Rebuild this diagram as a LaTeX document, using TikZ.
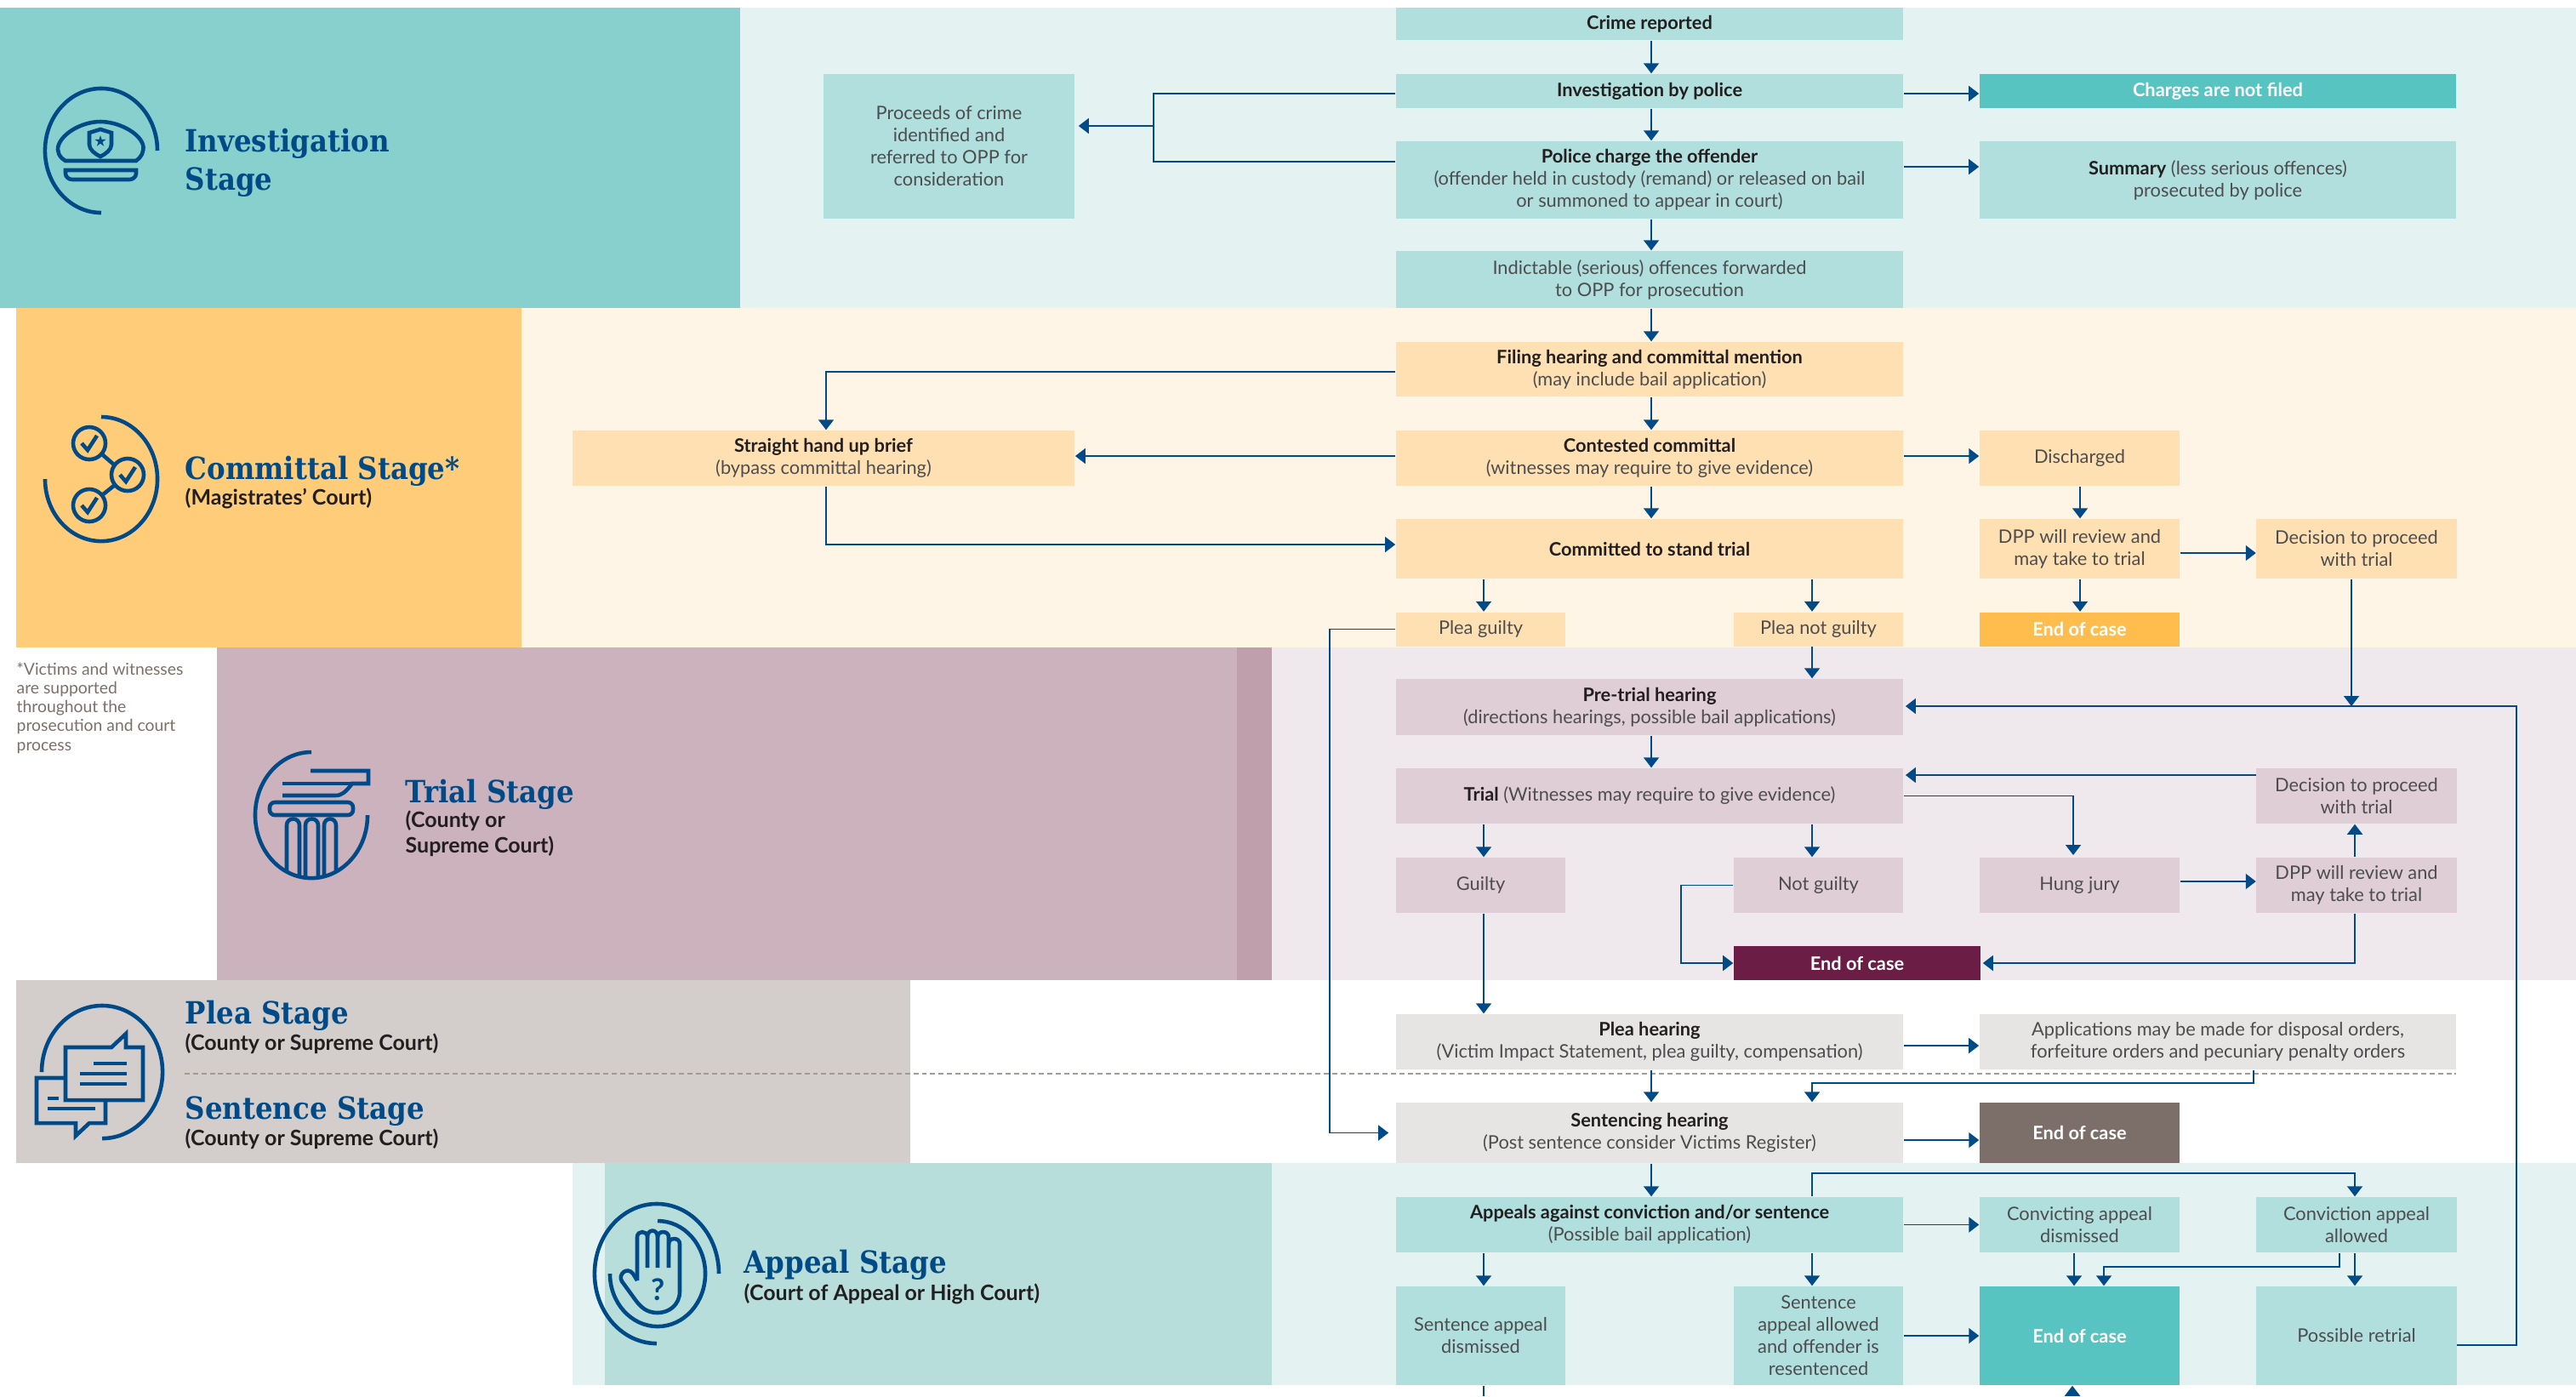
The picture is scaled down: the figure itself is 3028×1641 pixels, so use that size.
\documentclass[tikz,border=0pt]{standalone}
\usepackage{fontspec}
\setmainfont{Lato}
\newfontfamily\headfont{DejaVu Serif Condensed}
\usetikzlibrary{arrows.meta}

\definecolor{linenavy}{HTML}{004B87}
\definecolor{tealpanel}{HTML}{88D0CE}
\definecolor{tealfill}{HTML}{B0DFDD}
\definecolor{tealback}{HTML}{E4F2F1}
\definecolor{tealend}{HTML}{58C4C2}
\definecolor{orangepanel}{HTML}{FFCC7A}
\definecolor{orangefill}{HTML}{FFE0B2}
\definecolor{orangeback}{HTML}{FFF5E6}
\definecolor{orangeend}{HTML}{FFBD4D}
\definecolor{plumpanel}{HTML}{CBB2BC}
\definecolor{plumstrip}{HTML}{BF9FAC}
\definecolor{plumfill}{HTML}{DFCED5}
\definecolor{plumback}{HTML}{EFE8EC}
\definecolor{plumend}{HTML}{6B1D45}
\definecolor{greypanel}{HTML}{D3CDCB}
\definecolor{greyfill}{HTML}{E7E5E4}
\definecolor{greyend}{HTML}{7C6F69}
\definecolor{appealpanel}{HTML}{B8DEDC}
\definecolor{bodygrey}{HTML}{4D4D4F}
\definecolor{darktext}{HTML}{231F20}

\tikzset{
    box/.style={rectangle, inner sep=0pt, align=center, text=bodygrey,
        font=\fontsize{6.2}{7.4}\selectfont},
    wmain/.style={minimum width=5.96cm},
    wnarrow/.style={minimum width=1.99cm},
    wmid/.style={minimum width=2.35cm},
    wwide/.style={minimum width=5.60cm},
    tealbox/.style={box, fill=tealfill},
    orangebox/.style={box, fill=orangefill},
    plumbox/.style={box, fill=plumfill},
    greybox/.style={box, fill=greyfill},
    endbox/.style={box, text=white, font=\fontsize{6.2}{7.4}\selectfont\bfseries},
    arr/.style={draw=linenavy, line width=0.5pt, -{Triangle[length=1.2mm,width=1.8mm]}},
    seg/.style={draw=linenavy, line width=0.5pt},
    icon/.style={draw=linenavy, line width=1.3pt},
    stagename/.style={anchor=base west, inner sep=0pt, text=linenavy,
        font=\headfont\bfseries\fontsize{10.25}{12.8}\selectfont, align=left},
    court/.style={anchor=base west, inner sep=0pt, text=darktext,
        font=\fontsize{7.1}{8.4}\selectfont\bfseries, align=left}
}
\newcommand{\hd}[1]{\textbf{\textcolor{darktext}{#1}}}

\begin{document}
\begin{tikzpicture}[x=0.01cm, y=-0.01cm]
    \useasboundingbox (0, 0) rectangle (3028, 1641);

    % bands
    \fill[tealback] (870, 9) rectangle (3028, 362);
    \fill[tealpanel] (0, 9) rectangle (870, 362);
    \fill[orangeback] (613, 362) rectangle (3028, 761);
    \fill[orangepanel] (19, 362) rectangle (613, 761);
    \fill[plumback] (1495, 761) rectangle (3028, 1152);
    \fill[plumpanel] (255, 761) rectangle (1454, 1152);
    \fill[plumstrip] (1454, 761) rectangle (1495, 1152);
    \fill[greypanel] (19, 1152) rectangle (1070, 1367);
    \fill[tealback] (1495, 1367) rectangle (3028, 1628);
    \fill[tealback] (673, 1367) rectangle (711, 1628);
    \fill[appealpanel] (711, 1367) rectangle (1495, 1628);

    % investigation
    \node[tealbox, wmain, minimum height=0.38cm] (crime) at (1939, 28) {\hd{Crime reported}};
    \node[tealbox, wmain, minimum height=0.40cm] (police) at (1939, 107) {\hd{Investigation by police}};
    \node[tealbox, wmain, minimum height=0.91cm] (charge) at (1939, 211.5) {\hd{Police charge the offender}\\(offender held in custody (remand) or released on bail\\or summoned to appear in court)};
    \node[tealbox, wmain, minimum height=0.67cm] (indictable) at (1939, 328.5) {Indictable (serious) offences forwarded\\to OPP for prosecution};
    \node[tealbox, minimum width=2.95cm, minimum height=1.70cm] (proceeds) at (1115.5, 172) {Proceeds of crime\\identified and\\referred to OPP for\\consideration};
    \node[endbox, fill=tealend, wwide, minimum height=0.40cm] (notfiled) at (2607, 107) {Charges are not filed};
    \node[tealbox, wwide, minimum height=0.91cm] (summary) at (2607, 211.5) {\hd{Summary} (less serious offences)\\prosecuted by police};

    % committal
    \node[orangebox, wmain, minimum height=0.64cm] (filing) at (1939, 434) {\hd{Filing hearing and committal mention}\\(may include bail application)};
    \node[orangebox, minimum width=5.90cm, minimum height=0.65cm] (handup) at (968, 538.5) {\hd{Straight hand up brief}\\(bypass committal hearing)};
    \node[orangebox, wmain, minimum height=0.65cm] (contested) at (1939, 538.5) {\hd{Contested committal}\\(witnesses may require to give evidence)};
    \node[orangebox, wmain, minimum height=0.70cm] (committed) at (1939, 645) {\hd{Committed to stand trial}};
    \node[orangebox, wmid, minimum height=0.65cm] (discharged) at (2444.5, 538.5) {Discharged};
    \node[orangebox, wmid, minimum height=0.70cm] (dppone) at (2444.5, 645) {DPP will review and\\may take to trial};
    \node[orangebox, wmid, minimum height=0.70cm] (decisionone) at (2770, 645) {Decision to proceed\\with trial};
    \node[orangebox, wnarrow, minimum height=0.40cm] (pleaguilty) at (1740.5, 739.5) {Plea guilty};
    \node[orangebox, wnarrow, minimum height=0.40cm] (pleanot) at (2137.5, 739.5) {Plea not guilty};
    \node[endbox, fill=orangeend, wmid, minimum height=0.40cm] (endorange) at (2444.5, 739.5) {End of case};

    % trial
    \node[plumbox, wmain, minimum height=0.66cm] (pretrial) at (1939, 831) {\hd{Pre-trial hearing}\\(directions hearings, possible bail applications)};
    \node[plumbox, wmain, minimum height=0.65cm] (trial) at (1939, 935.5) {\hd{Trial} (Witnesses may require to give evidence)};
    \node[plumbox, wmid, minimum height=0.65cm] (decisiontwo) at (2770, 935.5) {Decision to proceed\\with trial};
    \node[plumbox, wnarrow, minimum height=0.65cm] (guilty) at (1740.5, 1040.5) {Guilty};
    \node[plumbox, wnarrow, minimum height=0.65cm] (notguilty) at (2137.5, 1040.5) {Not guilty};
    \node[plumbox, wmid, minimum height=0.65cm] (hung) at (2444.5, 1040.5) {Hung jury};
    \node[plumbox, wmid, minimum height=0.65cm] (dpptwo) at (2770, 1040.5) {DPP will review and\\may take to trial};
    \node[endbox, fill=plumend, minimum width=2.90cm, minimum height=0.40cm] (endplum) at (2183, 1132) {End of case};

    % plea and sentence
    \node[greybox, wmain, minimum height=0.65cm] (pleahearing) at (1939, 1224.5) {\hd{Plea hearing}\\(Victim Impact Statement, plea guilty, compensation)};
    \node[greybox, wwide, minimum height=0.65cm] (applications) at (2607, 1224.5) {Applications may be made for disposal orders,\\forfeiture orders and pecuniary penalty orders};
    \node[greybox, wmain, minimum height=0.71cm] (sentencing) at (1939, 1331.5) {\hd{Sentencing hearing}\\(Post sentence consider Victims Register)};
    \node[endbox, fill=greyend, wmid, minimum height=0.71cm] (endgrey) at (2444.5, 1331.5) {End of case};
    \draw[greyend!70, line width=0.4pt, dash pattern=on 1.7pt off 1.1pt] (217, 1262) -- (2887, 1262);

    % appeal
    \node[tealbox, wmain, minimum height=0.65cm] (appeals) at (1939, 1439.5) {\hd{Appeals against conviction and/or sentence}\\(Possible bail application)};
    \node[tealbox, wmid, minimum height=0.65cm] (convicting) at (2444.5, 1439.5) {Convicting appeal\\dismissed};
    \node[tealbox, wmid, minimum height=0.65cm] (allowed) at (2770, 1439.5) {Conviction appeal\\allowed};
    \node[tealbox, wnarrow, minimum height=1.16cm] (sdismissed) at (1740.5, 1570) {Sentence appeal\\dismissed};
    \node[tealbox, wnarrow, minimum height=1.16cm] (sallowed) at (2137.5, 1570) {Sentence\\appeal allowed\\and offender is\\resentenced};
    \node[endbox, fill=tealend, wmid, minimum height=1.16cm] (endteal) at (2444.5, 1570) {End of case};
    \node[tealbox, wmid, minimum height=1.16cm] (retrial) at (2770, 1570) {Possible retrial};

    % stage titles
    \node[stagename] (tinvest) at (217, 223) {Investigation\\Stage};
    \node[stagename] (tcommit) at (217, 563) {Committal Stage*};
    \node[court] (ccommit) at (217, 593) {(Magistrates’ Court)};
    \node[stagename] (ttrial) at (476, 943) {Trial Stage};
    \node[court] (ctrial) at (476, 1002) {(County or\\Supreme Court)};
    \node[stagename] (tplea) at (217, 1203) {Plea Stage};
    \node[court] (cplea) at (217, 1234) {(County or Supreme Court)};
    \node[stagename] (tsentence) at (217, 1315) {Sentence Stage};
    \node[court] (csentence) at (217, 1346) {(County or Supreme Court)};
    \node[stagename] (tappeal) at (874, 1496) {Appeal Stage};
    \node[court] (cappeal) at (874, 1528) {(Court of Appeal or High Court)};
    \node[anchor=base west, inner sep=0pt, align=left, text=greyend, font=\fontsize{5.5}{6.3}\selectfont] (victims) at (19, 882) {*Victims and witnesses\\are supported\\throughout the\\prosecution and court\\process};

    % columns and rows for the connectors
    \coordinate (colmain) at (1941, 0);
    \coordinate (colguilty) at (1744, 0);
    \coordinate (colnot) at (2130, 0);
    \coordinate (colmid) at (2445, 0);
    \coordinate (colright) at (2768, 0);
    \coordinate (colretrial) at (2958, 0);
    \coordinate (colplea) at (1563, 0);
    \coordinate (colhand) at (971, 0);
    \coordinate (colsplit) at (1356, 148);
    \coordinate (rowpolice) at (0, 110);
    \coordinate (rowcharge) at (0, 190);
    \coordinate (rowsummary) at (0, 196);
    \coordinate (rowfiling) at (0, 437);
    \coordinate (rowcontest) at (0, 536);
    \coordinate (rowstand) at (0, 640);
    \coordinate (rowdpp) at (0, 650);
    \coordinate (rowpre) at (0, 830);
    \coordinate (rowhung) at (0, 1036);
    \coordinate (rowapply) at (0, 1229);
    \coordinate (cutleft) at (1744, 1641);
    \coordinate (cutend) at (2436, 1641);

    \draw[arr] (crime.south -| colmain) -- (police.north -| colmain);
    \draw[arr] (police.south -| colmain) -- (charge.north -| colmain);
    \draw[arr] (charge.south -| colmain) -- (indictable.north -| colmain);
    \draw[arr] (indictable.south -| colmain) -- (filing.north -| colmain);
    \draw[arr] (filing.south -| colmain) -- (contested.north -| colmain);
    \draw[arr] (contested.south -| colmain) -- (committed.north -| colmain);
    \draw[seg] (police.west |- rowpolice) -| (colsplit) |- (charge.west |- rowcharge);
    \draw[arr] (colsplit) -- ([xshift=0.04cm]proceeds.east |- colsplit);
    \draw[arr] (police.east |- rowpolice) -- (notfiled.west |- rowpolice);
    \draw[arr] (charge.east |- rowsummary) -- (summary.west |- rowsummary);
    \draw[arr] (filing.west |- rowfiling) -| (handup.north -| colhand);
    \draw[arr] (contested.west |- rowcontest) -- (handup.east |- rowcontest);
    \draw[arr] (handup.south -| colhand) |- (committed.west |- rowstand);
    \draw[arr] (contested.east |- rowcontest) -- (discharged.west |- rowcontest);
    \draw[arr] (discharged.south -| colmid) -- (dppone.north -| colmid);
    \draw[arr] (dppone.south -| colmid) -- (endorange.north -| colmid);
    \draw[arr] (dppone.east |- rowdpp) -- (decisionone.west |- rowdpp);
    \draw[arr] (decisionone.south -| 2764, 0) -- (2764, 830);
    \draw[arr] (committed.south -| colguilty) -- (pleaguilty.north -| colguilty);
    \draw[arr] (committed.south -| colnot) -- (pleanot.north -| colnot);
    \draw[arr] (pleaguilty.west) -| (colplea |- sentencing.west) -- ([xshift=-0.08cm]sentencing.west);
    \draw[arr] (pleanot.south -| colnot) -- (pretrial.north -| colnot);
    \draw[arr] (pretrial.south -| colmain) -- (trial.north -| colmain);
    \draw[arr] (trial.south -| colguilty) -- (guilty.north -| colguilty);
    \draw[arr] (trial.south -| colnot) -- (notguilty.north -| colnot);
    \draw[arr] (trial.east) -| (2437, 1005);
    \draw[arr] (decisiontwo.west |- 0, 911) -- ([xshift=0.02cm]trial.east |- 0, 911);
    \draw[arr] (hung.east |- rowhung) -- (dpptwo.west |- rowhung);
    \draw[arr] (dpptwo.north -| colright) -- (decisiontwo.south -| colright);
    \draw[arr] (dpptwo.south -| colright) |- ([xshift=0.02cm]endplum.east);
    \draw[arr] (notguilty.west) -| (1976, 1132) -- (endplum.west);
    \draw[arr] (guilty.south -| colguilty) -- (pleahearing.north -| colguilty);
    \draw[arr] (pleahearing.east |- rowapply) -- (applications.west |- rowapply);
    \draw[arr] (pleahearing.south -| colmain) -- (sentencing.north -| colmain);
    \draw[arr] (applications.south -| 2649, 0) |- (2130, 1273) -- (sentencing.north -| colnot);
    \draw[arr] (sentencing.east |- 0, 1340) -- (endgrey.west |- 0, 1340);
    \draw[arr] (sentencing.south -| colmain) -- (appeals.north -| colmain);
    \draw[arr] (appeals.north -| colnot) |- (colright |- 0, 1379) -- (allowed.north -| colright);
    \draw[arr] (appeals.east) -- (convicting.west);
    \draw[arr] (appeals.south -| colguilty) -- (sdismissed.north -| colguilty);
    \draw[arr] (appeals.south -| colnot) -- (sallowed.north -| colnot);
    \draw[arr] (convicting.south -| 2438, 0) -- (endteal.north -| 2438, 0);
    \draw[arr] (allowed.south -| colright) -- (retrial.north -| colright);
    \draw[arr] (allowed.south -| 2750, 0) |- (2473, 1489) -- (endteal.north -| 2473, 0);
    \draw[arr] (sallowed.east) -- (endteal.west);
    \draw[arr] (retrial.east |- 0, 1581) -| (colretrial |- rowpre) -- ([xshift=0.02cm]pretrial.east |- rowpre);
    \draw[seg] (sdismissed.south -| cutleft) -- (cutleft);
    \draw[arr] (cutend) -- (endteal.south -| cutend);

    % hat
    \draw[icon] (185, 177) arc[start angle=0, end angle=270, x radius=0.66cm, y radius=0.73cm];
    \draw[icon] (77, 189) .. controls (70, 185) and (66, 178) .. (69, 170) .. controls (75, 155) and (98, 143) .. (118, 143) .. controls (138, 143) and (163, 155) .. (168, 170) .. controls (170, 178) and (166, 185) .. (160, 189) -- cycle;
    \draw[icon] (77, 200) -- (160, 200) -- (160, 204) .. controls (160, 208) and (156, 211) .. (152, 211) -- (85, 211) .. controls (81, 211) and (77, 208) .. (77, 204) -- cycle;
    \draw[icon, fill=tealpanel] (105, 156) -- (118, 152) -- (131, 156) -- (131, 170) .. controls (131, 176) and (124, 181) .. (118, 184) .. controls (112, 181) and (105, 176) .. (105, 170) -- cycle;
    \fill[linenavy] (118, 159) -- (113.9, 171.7) -- (124.7, 163.8) -- (111.3, 163.8) -- (122.1, 171.7) -- cycle;

    % checks
    \draw[icon] (119, 490) arc[start angle=90, end angle=-180, x radius=0.66cm, y radius=0.73cm];
    \draw[icon] (105, 521) circle[radius=0.19cm];
    \draw[icon] (150, 558) circle[radius=0.19cm];
    \draw[icon] (105, 594) circle[radius=0.19cm];
    \draw[icon] (120, 534) -- (135, 547);
    \draw[icon] (120, 582) -- (135, 570);
    \draw[icon] (96, 521) -- (103, 529) -- (114, 512);
    \draw[icon] (141, 558) -- (148, 566) -- (159, 549);
    \draw[icon] (96, 594) -- (103, 602) -- (114, 585);

    % column
    \draw[icon] (366, 884) arc[start angle=90, end angle=360, x radius=0.66cm, y radius=0.74cm];
    \draw[icon] (365, 906) -- (433, 906) -- (433, 921) -- (414, 921) .. controls (406, 931) and (402, 935) .. (394, 935) -- (332, 935);
    \draw[icon] (332, 921) -- (414, 921);
    \draw[icon, rounded corners=0.06cm] (317, 943) rectangle (415, 958);
    \draw[icon] (337, 1023) -- (337, 970) .. controls (337, 960) and (352, 960) .. (352, 970) -- (352, 1031);
    \draw[icon] (359, 1031) -- (359, 970) .. controls (359, 960) and (374, 960) .. (374, 970) -- (374, 1031);
    \draw[icon] (381, 1031) -- (381, 970) .. controls (381, 960) and (395, 960) .. (395, 970) -- (395, 1023);

    % speech bubbles
    \draw[icon] (49, 1260) arc[start angle=180, end angle=-90, x radius=0.71cm, y radius=0.78cm];
    \draw[icon] (77, 1231) -- (131, 1231) -- (148, 1215) -- (148, 1231) -- (168, 1231) -- (168, 1293) -- (77, 1293) -- cycle;
    \draw[icon] (110, 1250) -- (149, 1250);
    \draw[icon] (94, 1262) -- (149, 1262);
    \draw[icon] (94, 1274) -- (149, 1274);
    \draw[icon] (77, 1267) -- (43, 1267) -- (43, 1320) -- (89, 1320) -- (89, 1335) -- (105, 1320) -- (124, 1320) -- (124, 1293);
    \draw[icon] (56, 1291) -- (69, 1291);
    \draw[icon] (56, 1303) -- (112, 1303);

    % hand
    \draw[icon] (845, 1497) arc[start angle=0, end angle=270, x radius=0.73cm, y radius=0.82cm];
    \draw[icon] (773, 1435) arc[start angle=90, end angle=-180, x radius=0.56cm, y radius=0.62cm];
    \draw[icon] (749, 1505) -- (749, 1454) .. controls (749, 1446) and (761, 1446) .. (761, 1454) -- (761, 1490);
    \draw[icon] (761, 1454) .. controls (761, 1444) and (773, 1444) .. (773, 1454) -- (773, 1490);
    \draw[icon] (773, 1454) .. controls (773, 1446) and (786, 1446) .. (786, 1454) -- (786, 1490);
    \draw[icon] (786, 1462) .. controls (786, 1454) and (799, 1454) .. (799, 1462) -- (799, 1518) .. controls (799, 1534) and (786, 1543) .. (773, 1543) .. controls (760, 1543) and (753, 1536) .. (747, 1528) -- (731, 1506) .. controls (726, 1498) and (737, 1488) .. (744, 1497) -- (749, 1505);
    \node[inner sep=0pt, text=linenavy, font=\fontsize{10}{12}\selectfont\bfseries] (question) at (774, 1516) {?};
\end{tikzpicture}
\end{document}
